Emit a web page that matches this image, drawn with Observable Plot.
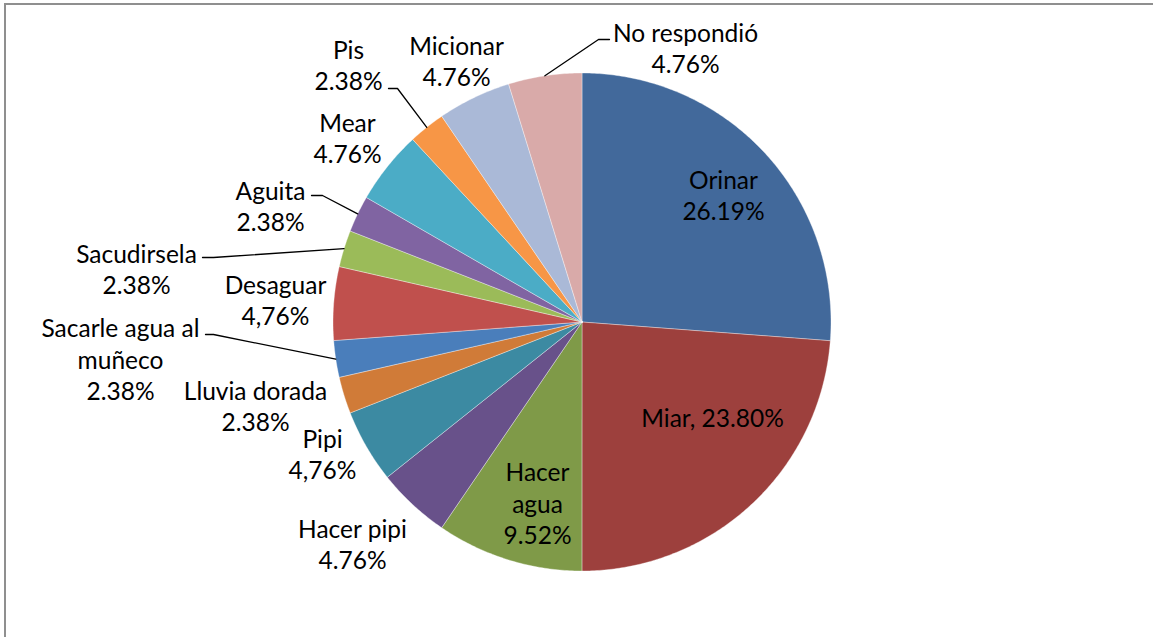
<!DOCTYPE html>
<html>
<head>
<meta charset="utf-8">
<script src="https://cdn.jsdelivr.net/npm/d3@7"></script>
<script src="https://cdn.jsdelivr.net/npm/@observablehq/plot@0.6"></script>
<style>
  html, body { margin: 0; padding: 0; background: #fff; }
  #wrap { position: relative; width: 1153px; height: 637px; overflow: hidden; }
  #border { position: absolute; left: 4px; top: 3px; width: 1200px; height: 700px;
            border-left: 2px solid #8f8f8f; border-top: 2px solid #8f8f8f; pointer-events: none; }
</style>
</head>
<body>
<div id="wrap"><div id="border"></div></div>
<script>
// ---- data ----
const categories = ["Orinar", "Miar", "Hacer agua", "Hacer pipi", "Pipi", "Lluvia dorada",
  "Sacarle agua al muñeco", "Desaguar", "Sacudirsela", "Aguita", "Mear", "Pis", "Micionar", "No respondió"];
const values = [26.19, 23.80, 9.52, 4.76, 4.76, 2.38, 2.38, 4.76, 2.38, 2.38, 4.76, 2.38, 4.76, 4.76];
const valueLabels = ["26.19%", "23.80%", "9.52%", "4.76%", "4,76%", "2.38%", "2.38%", "4,76%", "2.38%", "2.38%", "4.76%", "2.38%", "4.76%", "4.76%"];
const labelTexts = ["Orinar\n26.19%", "Miar, 23.80%", "Hacer\nagua\n9.52%", "Hacer pipi\n4.76%", "Pipi\n4,76%",
  "Lluvia dorada\n2.38%", "Sacarle agua al\nmuñeco\n2.38%", "Desaguar\n4,76%", "Sacudirsela\n2.38%",
  "Aguita\n2.38%", "Mear\n4.76%", "Pis\n2.38%", "Micionar\n4.76%", "No respondió\n4.76%"];

// ---- styles / layout (not data) ----
const colors = ["#42699B", "#9D403D", "#7F9A48", "#68518A", "#3C8AA2", "#D07B38", "#4A7EBB",
  "#C0504D", "#9BBB59", "#8064A2", "#4BACC6", "#F79646", "#AAB9D7", "#D9AAA9"];
const R = 249, CX = 581.5, CY = 321.5, W = 1153, H = 637;
// label block centres (pixels in the picture frame, converted to pie units below)
const labelPix = [[723, 194], [712, 416], [537, 502], [352, 543], [322, 453], [255, 405],
  [120, 358], [275, 299], [136, 268], [270, 205], [347, 137], [348, 64], [456, 60], [685, 47]];
// leader lines: index of slice, elbow point, end point (pixels)
const leaders = [
  {i: 11, elbow: [397, 88], end: [388, 88]},
  {i: 9, elbow: [322, 195], end: [311, 195]},
  {i: 8, elbow: [213, 257], end: [202, 257]},
  {i: 6, elbow: [213, 334], end: [205, 334]},
  {i: 13, elbow: [598, 39], end: [609, 39]}
];
const toU = ([px, py]) => [(px - CX) / R, (CY - py) / R];

// ---- geometry from data ----
const total = d3.sum(values);
let acc = 0;
const slices = values.map((v, i) => {
  const a0 = acc / total * 2 * Math.PI; acc += v;
  const a1 = acc / total * 2 * Math.PI;
  return {name: categories[i], a0, a1, mid: (a0 + a1) / 2};
});
const polys = [];
for (const s of slices) {
  polys.push({name: s.name, x: 0, y: 0});
  const n = Math.max(4, Math.ceil((s.a1 - s.a0) / 0.01));
  for (let k = 0; k <= n; k++) {
    const a = s.a0 + (s.a1 - s.a0) * k / n;
    polys.push({name: s.name, x: Math.sin(a), y: Math.cos(a)});
  }
  polys.push({name: s.name, x: 0, y: 0});
}
const labels = categories.map((c, i) => {
  const [x, y] = toU(labelPix[i]);
  return {name: c, text: labelTexts[i], x, y};
});
const leaderPts = [];
for (const l of leaders) {
  const s = slices[l.i];
  leaderPts.push({name: s.name, x: Math.sin(s.mid), y: Math.cos(s.mid)});
  const e = toU(l.elbow), f = toU(l.end);
  leaderPts.push({name: s.name, x: e[0], y: e[1]});
  leaderPts.push({name: s.name, x: f[0], y: f[1]});
}

const chart = Plot.plot({
  width: W, height: H,
  marginLeft: CX - R, marginRight: W - CX - R,
  marginTop: CY - R, marginBottom: H - CY - R,
  x: {domain: [-1, 1], axis: null},
  y: {domain: [-1, 1], axis: null},
  color: {domain: categories, range: colors},
  style: {fontFamily: "Lato, 'Open Sans', sans-serif", background: "transparent", overflow: "visible"},
  marks: [
    Plot.line(polys, {x: "x", y: "y", z: "name", fill: "name", stroke: "#ffffff",
      strokeWidth: 0.6, strokeOpacity: 0.6, curve: "linear"}),
    Plot.line(leaderPts, {x: "x", y: "y", z: "name", stroke: "#000", strokeWidth: 1.3, curve: "linear"}),
    Plot.text(labels, {x: "x", y: "y", text: "text", fontSize: 24.5, lineHeight: 1.29,
      fill: "#000", textAnchor: "middle", lineAnchor: "middle"})
  ]
});
document.getElementById("wrap").insertBefore(chart, document.getElementById("border"));
chart.style.position = "absolute";
chart.style.left = "0px";
chart.style.top = "0px";
</script>
</body>
</html>
